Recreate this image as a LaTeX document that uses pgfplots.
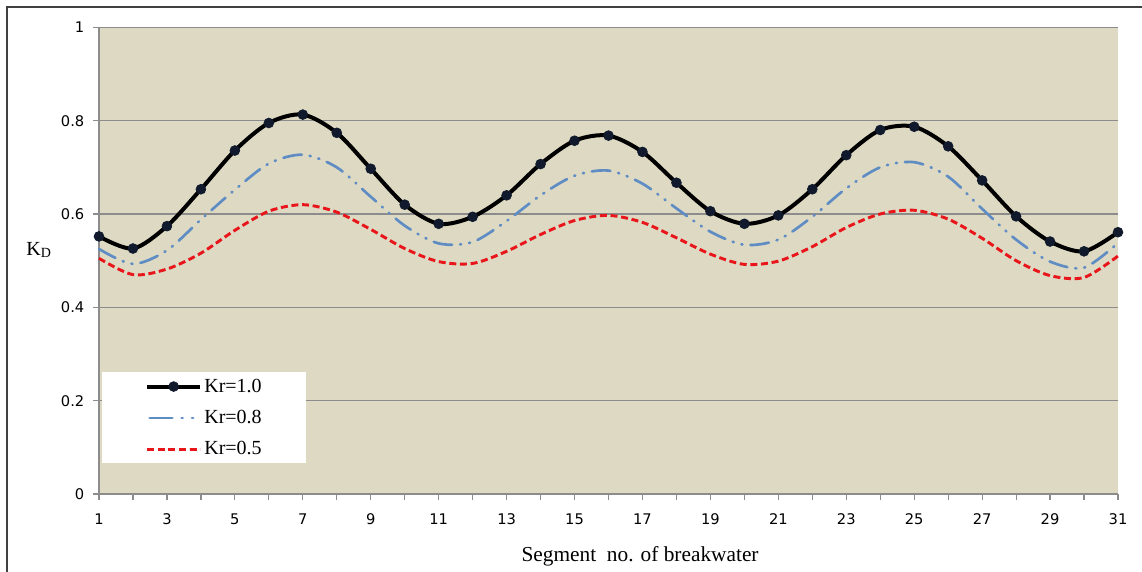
\documentclass[border=0pt]{standalone}
\usepackage{pgfplots}
\pgfplotsset{compat=1.18}
\usepackage{pgfplotstable}
\usepackage{fontspec}
\setmainfont{Liberation Serif}
\newfontfamily\tickfont{DejaVu Sans}
\definecolor{bgtan}{HTML}{DDD9C3}
\definecolor{gridgray}{HTML}{8C8C8C}
\definecolor{krblue}{HTML}{5F8DC3}
\definecolor{krred}{HTML}{E8161B}
\definecolor{markfill}{HTML}{101A2C}
\definecolor{framegray}{HTML}{404040}

\pgfplotstableread{
x  k10   k08   k05
1  0.552 0.525 0.505
2  0.526 0.493 0.470
3  0.574 0.522 0.482
4  0.653 0.588 0.516
5  0.736 0.652 0.565
6  0.795 0.708 0.606
7  0.813 0.727 0.620
8  0.774 0.700 0.604
9  0.697 0.637 0.567
10 0.620 0.575 0.526
11 0.579 0.537 0.498
12 0.594 0.540 0.494
13 0.640 0.585 0.520
14 0.707 0.640 0.556
15 0.757 0.682 0.586
16 0.768 0.693 0.597
17 0.733 0.665 0.582
18 0.667 0.612 0.549
19 0.606 0.562 0.514
20 0.579 0.534 0.492
21 0.597 0.545 0.499
22 0.653 0.594 0.530
23 0.726 0.655 0.571
24 0.780 0.700 0.600
25 0.787 0.711 0.608
26 0.745 0.680 0.589
27 0.672 0.611 0.548
28 0.595 0.545 0.500
29 0.541 0.498 0.468
30 0.520 0.485 0.464
31 0.561 0.538 0.510
}\datatable

\pgfplotsset{
  bluelegend/.style={legend image code/.code={\draw[##1, dash pattern=on 17pt off 7pt on 0.8pt off 7pt on 0.8pt off 20pt] (2pt,0pt) -- (40pt,0pt);}}
}

\begin{document}
\begin{tikzpicture}
\useasboundingbox (0,0) rectangle (856.5pt,428.25pt);
\fill[white] (0,0) rectangle (856.5pt,428.25pt);
\draw[framegray, line width=1.2pt] (5.25pt,-1pt) -- (5.25pt,423pt) -- (858pt,423pt);
\begin{axis}[
  at={(74.25pt,57.75pt)}, anchor=south west,
  scale only axis, width=764.25pt, height=350pt,
  xmin=1, xmax=31, ymin=0, ymax=1,
  axis x line*=bottom, axis y line*=left,
  axis line style={gridgray, line width=0.9pt},
  axis background/.style={fill=bgtan},
  xtick={1,3,...,31}, minor xtick={2,4,...,30},
  xticklabels={1,3,5,7,9,11,13,15,17,19,21,23,25,27,29,31},
  ytick={0,0.2,0.4,0.6,0.8,1},
  yticklabels={0,0.2,0.4,0.6,0.8,1},
  tick align=outside,
  major tick length=4.5pt, minor tick length=4.5pt,
  every tick/.style={gridgray, line width=0.9pt},
  every minor tick/.style={gridgray, line width=0.9pt},
  ymajorgrids, grid style={gridgray, line width=0.9pt},
  ticklabel style={font=\tickfont\fontsize{11pt}{13pt}\selectfont, text=black},
  xticklabel style={yshift=-7pt},
  yticklabel style={xshift=-3pt},
  /pgf/number format/assume math mode=true,
  xlabel={Segment\ \ no. of breakwater},
  xlabel style={font=\fontsize{16pt}{19pt}\selectfont, at={(axis description cs:0.531,-0.1457)}, anchor=base},
  ylabel={K\textsubscript{D}},
  ylabel style={rotate=-90, font=\fontsize{15pt}{18pt}\selectfont, at={(axis description cs:-0.0759,0.512)}, anchor=base west},
  clip=false,
  legend style={at={(rel axis cs:0.003,0.2615)}, anchor=north west,
    draw=none, fill=white, font=\fontsize{15pt}{18pt}\selectfont,
    inner xsep=32pt, inner ysep=3.5pt, row sep=9pt,
    nodes={inner sep=1.5pt}},
  legend cell align=left,
  legend image code/.code={\draw[mark repeat=2,mark phase=2,#1] plot coordinates {(0pt,0pt) (20pt,0pt) (40pt,0pt)};},
]
\addplot[black, line width=3pt, smooth, mark=*, mark size=3.7pt,
  mark options={fill=markfill, draw=markfill, line width=0.5pt, solid}]
  table[x=x, y=k10] {\datatable};
\addlegendentry{Kr=1.0}
\addplot[krblue, line width=2pt, smooth, line cap=round,
  dash pattern=on 14pt off 6pt on 0.8pt off 6pt on 0.8pt off 6pt, bluelegend]
  table[x=x, y=k08] {\datatable};
\addlegendentry{Kr=0.8}
\addplot[krred, line width=2.2pt, smooth,
  dash pattern=on 5.25pt off 2.75pt]
  table[x=x, y=k05] {\datatable};
\addlegendentry{Kr=0.5}
\end{axis}
\end{tikzpicture}
\end{document}
